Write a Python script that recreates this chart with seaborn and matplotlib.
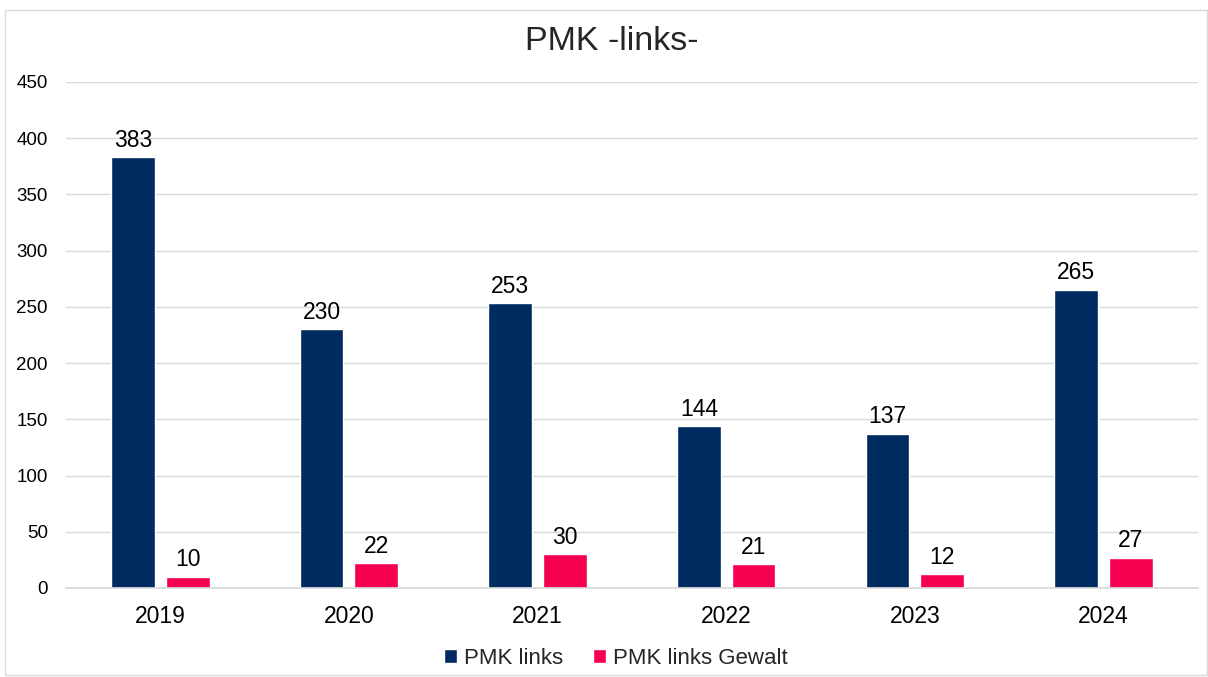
import pandas as pd
import seaborn as sns
import matplotlib.pyplot as plt
from matplotlib.patches import Rectangle

# data
years = ['2019', '2020', '2021', '2022', '2023', '2024']
pmk_links = [383, 230, 253, 144, 137, 265]
pmk_links_gewalt = [10, 22, 30, 21, 12, 27]
series_names = ['PMK links', 'PMK links Gewalt']
colors = ['#002B61', '#F5004F']

df = pd.DataFrame({
    'Jahr': years * 2,
    'Wert': pmk_links + pmk_links_gewalt,
    'Reihe': [series_names[0]] * len(years) + [series_names[1]] * len(years),
})

sns.set_theme(style='white')
plt.rcParams['font.family'] = ['Liberation Sans', 'DejaVu Sans']

fig = plt.figure(figsize=(12.08, 6.77), dpi=100)
ax = fig.add_axes([0.0546, 0.1315, 0.937, 0.7474])

sns.barplot(data=df, x='Jahr', y='Wert', hue='Reihe', palette=colors,
            width=0.58, gap=0.2, ax=ax, saturation=1)

# value labels
for cont in ax.containers:
    ax.bar_label(cont, padding=4, fontsize=16.5, color='black')

ax.set_ylim(0, 450)
ax.set_yticks(range(0, 451, 50))
ax.yaxis.grid(True, color='#d9d9d9', linewidth=1)
ax.set_axisbelow(True)
for s in ['left', 'right', 'top']:
    ax.spines[s].set_visible(False)
ax.spines['bottom'].set_color('#d9d9d9')
ax.tick_params(axis='both', colors='black', length=0)
ax.tick_params(axis='x', labelsize=16.5, pad=12)
ax.tick_params(axis='y', labelsize=13.5, pad=13)
ax.set_xlabel('')
ax.set_ylabel('')

fig.text(611.5 / 1208, 0.939, 'PMK -links-', ha='center', va='center', fontsize=24.5)

ax.legend(loc='lower center', bbox_to_anchor=(0.4855, -0.2), ncol=2,
          frameon=False, fontsize=16, handlelength=0.6, handleheight=0.6,
          handletextpad=0.3, columnspacing=1.35)

# outer chart border
fig.patches.append(Rectangle((5 / 1208, 0.003), 1 - 6 / 1208, 1 - 10 / 677 - 0.003,
                             transform=fig.transFigure, fill=False,
                             edgecolor='#d9d9d9', linewidth=1))

fig.savefig('out.png', dpi=100)
